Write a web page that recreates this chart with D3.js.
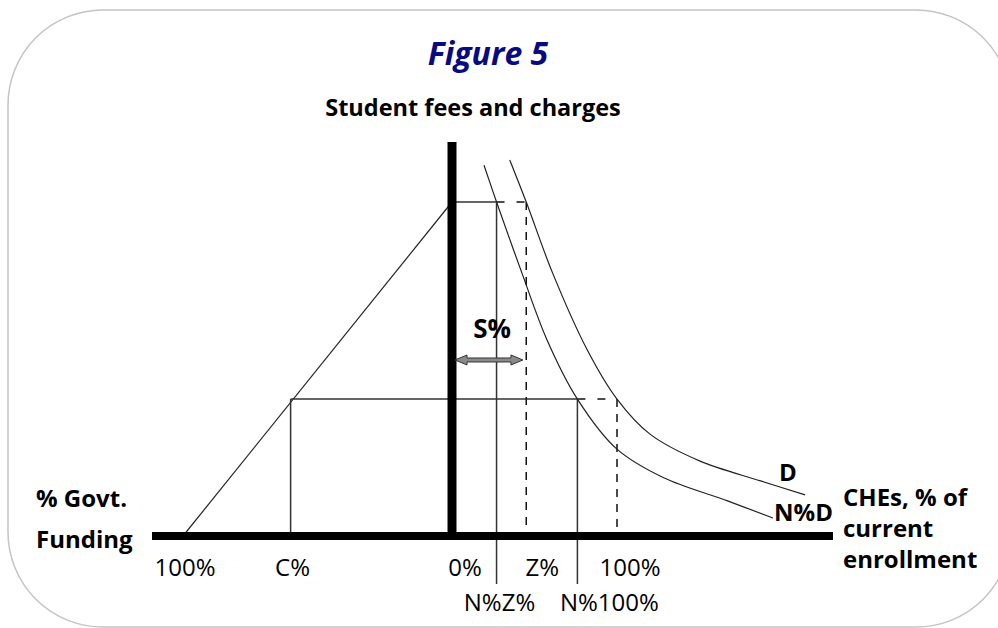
<!DOCTYPE html>
<html lang="en">
<head>
<meta charset="UTF-8">
<title>Figure 5</title>
<script src="https://d3js.org/d3.v7.min.js"></script>
<style>
    body { margin: 0; background: #fff; }
    svg { display: block; }
    text { font-family: "Open Sans", "Noto Sans", sans-serif; fill: #000; }
    .title { font-size: 32px; font-weight: 700; font-style: italic; fill: #0a0a80; }
    .subtitle { font-size: 23.5px; font-weight: 700; }
    .tick { font-size: 24px; }
    .lab { font-size: 24px; font-weight: 700; }
    .curve { fill: none; stroke: #222; stroke-width: 1.2px; }
    .guide { stroke: #333; stroke-width: 1.5px; fill: none; }
    .dash { stroke: #111; stroke-width: 1.5px; stroke-dasharray: 8,7; fill: none; }
</style>
</head>
<body>
<svg id="chart" width="998" height="628"></svg>
<script>
// demand curve D  (enrollment %, fee level)
const dEnroll = [35, 45, 61, 82, 100, 120, 150, 187, 214];
const dFee    = [112.6, 100, 78.7, 55.7, 41, 30.5, 22.5, 16.5, 12.3];
// demand curve N%D
const ndEnroll = [19.4, 27, 42.4, 57.6, 76, 100, 128, 167, 194.5];
const ndFee    = [111, 100, 78.7, 58.7, 41, 26, 17.5, 10.5, 5.4];

// key levels
const feeHigh = 100, feeLow = 41;
const zPct = 45, nzPct = 27, n100Pct = 76, fullPct = 100;
const cGov = 60, fullGov = 100;
const sFee = 52.7, sEnd = 43;

const bottomTicks = ["100%", "C%", "0%", "Z%", "100%"];
const lowerTicks = ["N%Z%", "N%100%"];

const svg = d3.select("#chart");

// scales: right side = % of current enrollment, left side = % govt funding
const xEnroll = d3.scaleLinear().domain([0, 100]).range([452, 617]);
const xGov = d3.scaleLinear().domain([0, 100]).range([452, 183]);
const y = d3.scaleLinear().domain([0, 100]).range([536, 202]);

// rounded frame
svg.append("rect")
    .attr("x", 8).attr("y", 10)
    .attr("width", 1003).attr("height", 617)
    .attr("rx", 95).attr("ry", 95)
    .attr("fill", "none").attr("stroke", "#c4c4c4").attr("stroke-width", 1.5);

svg.append("text").attr("class", "title")
    .attr("x", 488).attr("y", 65).attr("text-anchor", "middle")
    .text("Figure 5");
svg.append("text").attr("class", "subtitle")
    .attr("x", 473).attr("y", 116).attr("text-anchor", "middle")
    .text("Student fees and charges");

const g = svg.append("g");

// govt funding line
g.append("line").attr("class", "curve")
    .attr("x1", xGov(fullGov)).attr("y1", y(0))
    .attr("x2", xGov(0)).attr("y2", y(feeHigh));

// horizontal guides
g.append("line").attr("class", "guide")
    .attr("x1", xEnroll(0)).attr("x2", xEnroll(nzPct))
    .attr("y1", y(feeHigh)).attr("y2", y(feeHigh));
g.append("line").attr("class", "dash").style("stroke-dasharray", "8,12")
    .attr("x1", xEnroll(nzPct)).attr("x2", xEnroll(zPct))
    .attr("y1", y(feeHigh)).attr("y2", y(feeHigh));
g.append("line").attr("class", "guide")
    .attr("x1", xGov(cGov)).attr("x2", xEnroll(n100Pct))
    .attr("y1", y(feeLow)).attr("y2", y(feeLow));
g.append("line").attr("class", "dash").style("stroke-dasharray", "8,12")
    .attr("x1", xEnroll(n100Pct)).attr("x2", xEnroll(fullPct))
    .attr("y1", y(feeLow)).attr("y2", y(feeLow));

// vertical guides
g.append("line").attr("class", "guide")
    .attr("x1", xGov(cGov)).attr("x2", xGov(cGov))
    .attr("y1", y(feeLow)).attr("y2", y(0));
g.append("line").attr("class", "guide")
    .attr("x1", xEnroll(nzPct)).attr("x2", xEnroll(nzPct))
    .attr("y1", y(feeHigh)).attr("y2", y(0) + 48);
g.append("line").attr("class", "guide")
    .attr("x1", xEnroll(n100Pct)).attr("x2", xEnroll(n100Pct))
    .attr("y1", y(feeLow)).attr("y2", y(0) + 48);
g.append("line").attr("class", "dash")
    .attr("x1", xEnroll(zPct)).attr("x2", xEnroll(zPct))
    .attr("y1", y(feeHigh)).attr("y2", y(0));
g.append("line").attr("class", "dash")
    .attr("x1", xEnroll(fullPct)).attr("x2", xEnroll(fullPct))
    .attr("y1", y(feeLow)).attr("y2", y(0));

// demand curves
const line = d3.line().x(d => xEnroll(d[0])).y(d => y(d[1])).curve(d3.curveCatmullRom.alpha(0.5));
g.append("path").attr("class", "curve").attr("d", line(d3.zip(dEnroll, dFee)));
g.append("path").attr("class", "curve").attr("d", line(d3.zip(ndEnroll, ndFee)));

// axes (thick bars)
svg.append("line")
    .attr("x1", 152).attr("x2", 833)
    .attr("y1", y(0)).attr("y2", y(0))
    .attr("stroke", "#000").attr("stroke-width", 8);
svg.append("line")
    .attr("x1", xEnroll(0)).attr("x2", xEnroll(0))
    .attr("y1", 142).attr("y2", y(0) + 4)
    .attr("stroke", "#000").attr("stroke-width", 9);

// S% double arrow
const ay = y(sFee), ax0 = xEnroll(0) + 3, ax1 = xEnroll(sEnd);
const hl = 12, hw = 5, sw = 2;
svg.append("path")
    .attr("d", `M${ax0},${ay} L${ax0 + hl},${ay - hw} L${ax0 + hl},${ay - sw} L${ax1 - hl},${ay - sw}
        L${ax1 - hl},${ay - hw} L${ax1},${ay} L${ax1 - hl},${ay + hw} L${ax1 - hl},${ay + sw}
        L${ax0 + hl},${ay + sw} L${ax0 + hl},${ay + hw} Z`)
    .attr("fill", "#8a8a8a").attr("stroke", "#333").attr("stroke-width", 1);
svg.append("text").attr("class", "lab").style("font-size", "26px")
    .attr("x", 492).attr("y", 338).attr("text-anchor", "middle").text("S%");

// tick labels
const tickX = [xGov(fullGov), xGov(cGov), xEnroll(0) + 11, xEnroll(zPct) + 14, xEnroll(fullPct) + 11];
svg.selectAll(".t1").data(bottomTicks).join("text")
    .attr("class", "tick")
    .attr("x", (d, i) => tickX[i] + 2).attr("y", 576)
    .attr("text-anchor", "middle").text(d => d);
const lowX = [xEnroll(nzPct) + 3, xEnroll(n100Pct) + 32];
svg.selectAll(".t2").data(lowerTicks).join("text")
    .attr("class", "tick")
    .attr("x", (d, i) => lowX[i]).attr("y", 611)
    .attr("text-anchor", "middle").text(d => d);

// curve labels
svg.append("text").attr("class", "lab").attr("x", 779).attr("y", 481).text("D");
svg.append("text").attr("class", "lab").attr("x", 774).attr("y", 521).text("N%D");

// axis titles
const rightTitle = ["CHEs, % of", "current", "enrollment"];
svg.append("text").attr("class", "lab")
    .selectAll("tspan").data(rightTitle).join("tspan")
    .attr("x", 843).attr("y", (d, i) => 506 + i * 31).text(d => d);
const leftTitle = ["% Govt.", "Funding"];
svg.append("text").attr("class", "lab")
    .selectAll("tspan").data(leftTitle).join("tspan")
    .attr("x", 36).attr("y", (d, i) => 507 + i * 41).text(d => d);
</script>
</body>
</html>
